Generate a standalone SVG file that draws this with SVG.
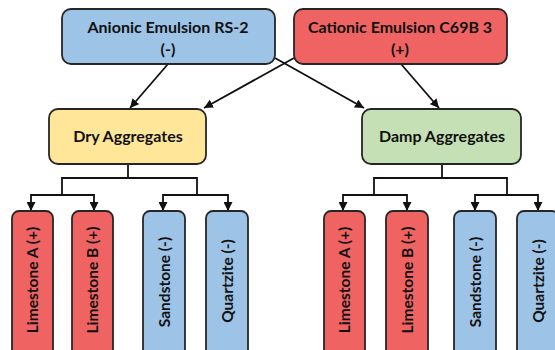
<svg xmlns="http://www.w3.org/2000/svg" width="555" height="350" viewBox="0 0 555 350">
<defs>
<style>
.box{stroke:#262626;stroke-width:1.8}
.blue{fill:#9DC3E6}.red{fill:#EF6363}.yellow{fill:#FFE699}.green{fill:#C5E0B4}
.t{font-family:Lato,"Open Sans",sans-serif;font-weight:bold;font-size:16px;fill:#111;text-anchor:middle}
.v{font-size:15.5px}
.c{fill:none;stroke:#111;stroke-width:1.8}
</style>
<marker id="ah" viewBox="0 0 10 10" refX="10" refY="5" markerWidth="5" markerHeight="5" markerUnits="strokeWidth" orient="auto-start-reverse">
<path d="M0,0 L10,5 L0,10 z" fill="#111"/>
</marker>
</defs>
<g id="connectors">
<line class="c" x1="168" y1="64" x2="130" y2="108" marker-end="url(#ah)"/>
<line class="c" x1="294" y1="58" x2="204" y2="108" marker-end="url(#ah)"/>
<line class="c" x1="275" y1="58" x2="364" y2="108" marker-end="url(#ah)"/>
<line class="c" x1="401" y1="64" x2="439" y2="108" marker-end="url(#ah)"/>
<polyline class="c" points="128,164 128,178"/>
<polyline class="c" points="62,195 62,178 197,178 197,195"/>
<polyline class="c" points="31,211 31,195 94,195 94,211" marker-start="url(#ah)" marker-end="url(#ah)"/>
<polyline class="c" points="163,211 163,195 228,195 228,211" marker-start="url(#ah)" marker-end="url(#ah)"/>
<polyline class="c" points="442,164 442,178"/>
<polyline class="c" points="374,195 374,178 507,178 507,195"/>
<polyline class="c" points="343,211 343,195 407,195 407,211" marker-start="url(#ah)" marker-end="url(#ah)"/>
<polyline class="c" points="475,211 475,195 538,195 538,211" marker-start="url(#ah)" marker-end="url(#ah)"/>
</g>
<g id="anionic"><rect class="box blue" x="62" y="9" width="213" height="55" rx="9"/><text class="t" x="168" y="33">Anionic Emulsion RS-2</text><text class="t" x="168" y="55">(-)</text></g>
<g id="cationic"><rect class="box red" x="294" y="9" width="213" height="55" rx="9"/><text class="t" x="400" y="33">Cationic Emulsion C69B 3</text><text class="t" x="400" y="55">(+)</text></g>
<g id="dry"><rect class="box yellow" x="49" y="109" width="157" height="55" rx="9"/><text class="t" x="128" y="142">Dry Aggregates</text></g>
<g id="damp"><rect class="box green" x="362" y="109" width="159" height="55" rx="9"/><text class="t" x="442" y="142">Damp Aggregates</text></g>
<g id="dry-limestone-a"><rect class="box red" x="12" y="211" width="41" height="150" rx="7"/><text class="t v" transform="translate(38,280) rotate(-90)">Limestone A (+)</text></g>
<g id="dry-limestone-b"><rect class="box red" x="72" y="211" width="41" height="150" rx="7"/><text class="t v" transform="translate(98,280) rotate(-90)">Limestone B (+)</text></g>
<g id="dry-sandstone"><rect class="box blue" x="143" y="211" width="42" height="150" rx="7"/><text class="t v" transform="translate(169.5,282) rotate(-90)">Sandstone (-)</text></g>
<g id="dry-quartzite"><rect class="box blue" x="206" y="211" width="42" height="150" rx="7"/><text class="t v" transform="translate(232.5,281) rotate(-90)">Quartzite (-)</text></g>
<g id="damp-limestone-a"><rect class="box red" x="324" y="211" width="41" height="150" rx="7"/><text class="t v" transform="translate(350,280) rotate(-90)">Limestone A (+)</text></g>
<g id="damp-limestone-b"><rect class="box red" x="386" y="211" width="42" height="150" rx="7"/><text class="t v" transform="translate(412.5,280) rotate(-90)">Limestone B (+)</text></g>
<g id="damp-sandstone"><rect class="box blue" x="454" y="211" width="42" height="150" rx="7"/><text class="t v" transform="translate(480.5,282) rotate(-90)">Sandstone (-)</text></g>
<g id="damp-quartzite"><rect class="box blue" x="517" y="211" width="42" height="150" rx="7"/><text class="t v" transform="translate(543.5,281) rotate(-90)">Quartzite (-)</text></g>
</svg>
